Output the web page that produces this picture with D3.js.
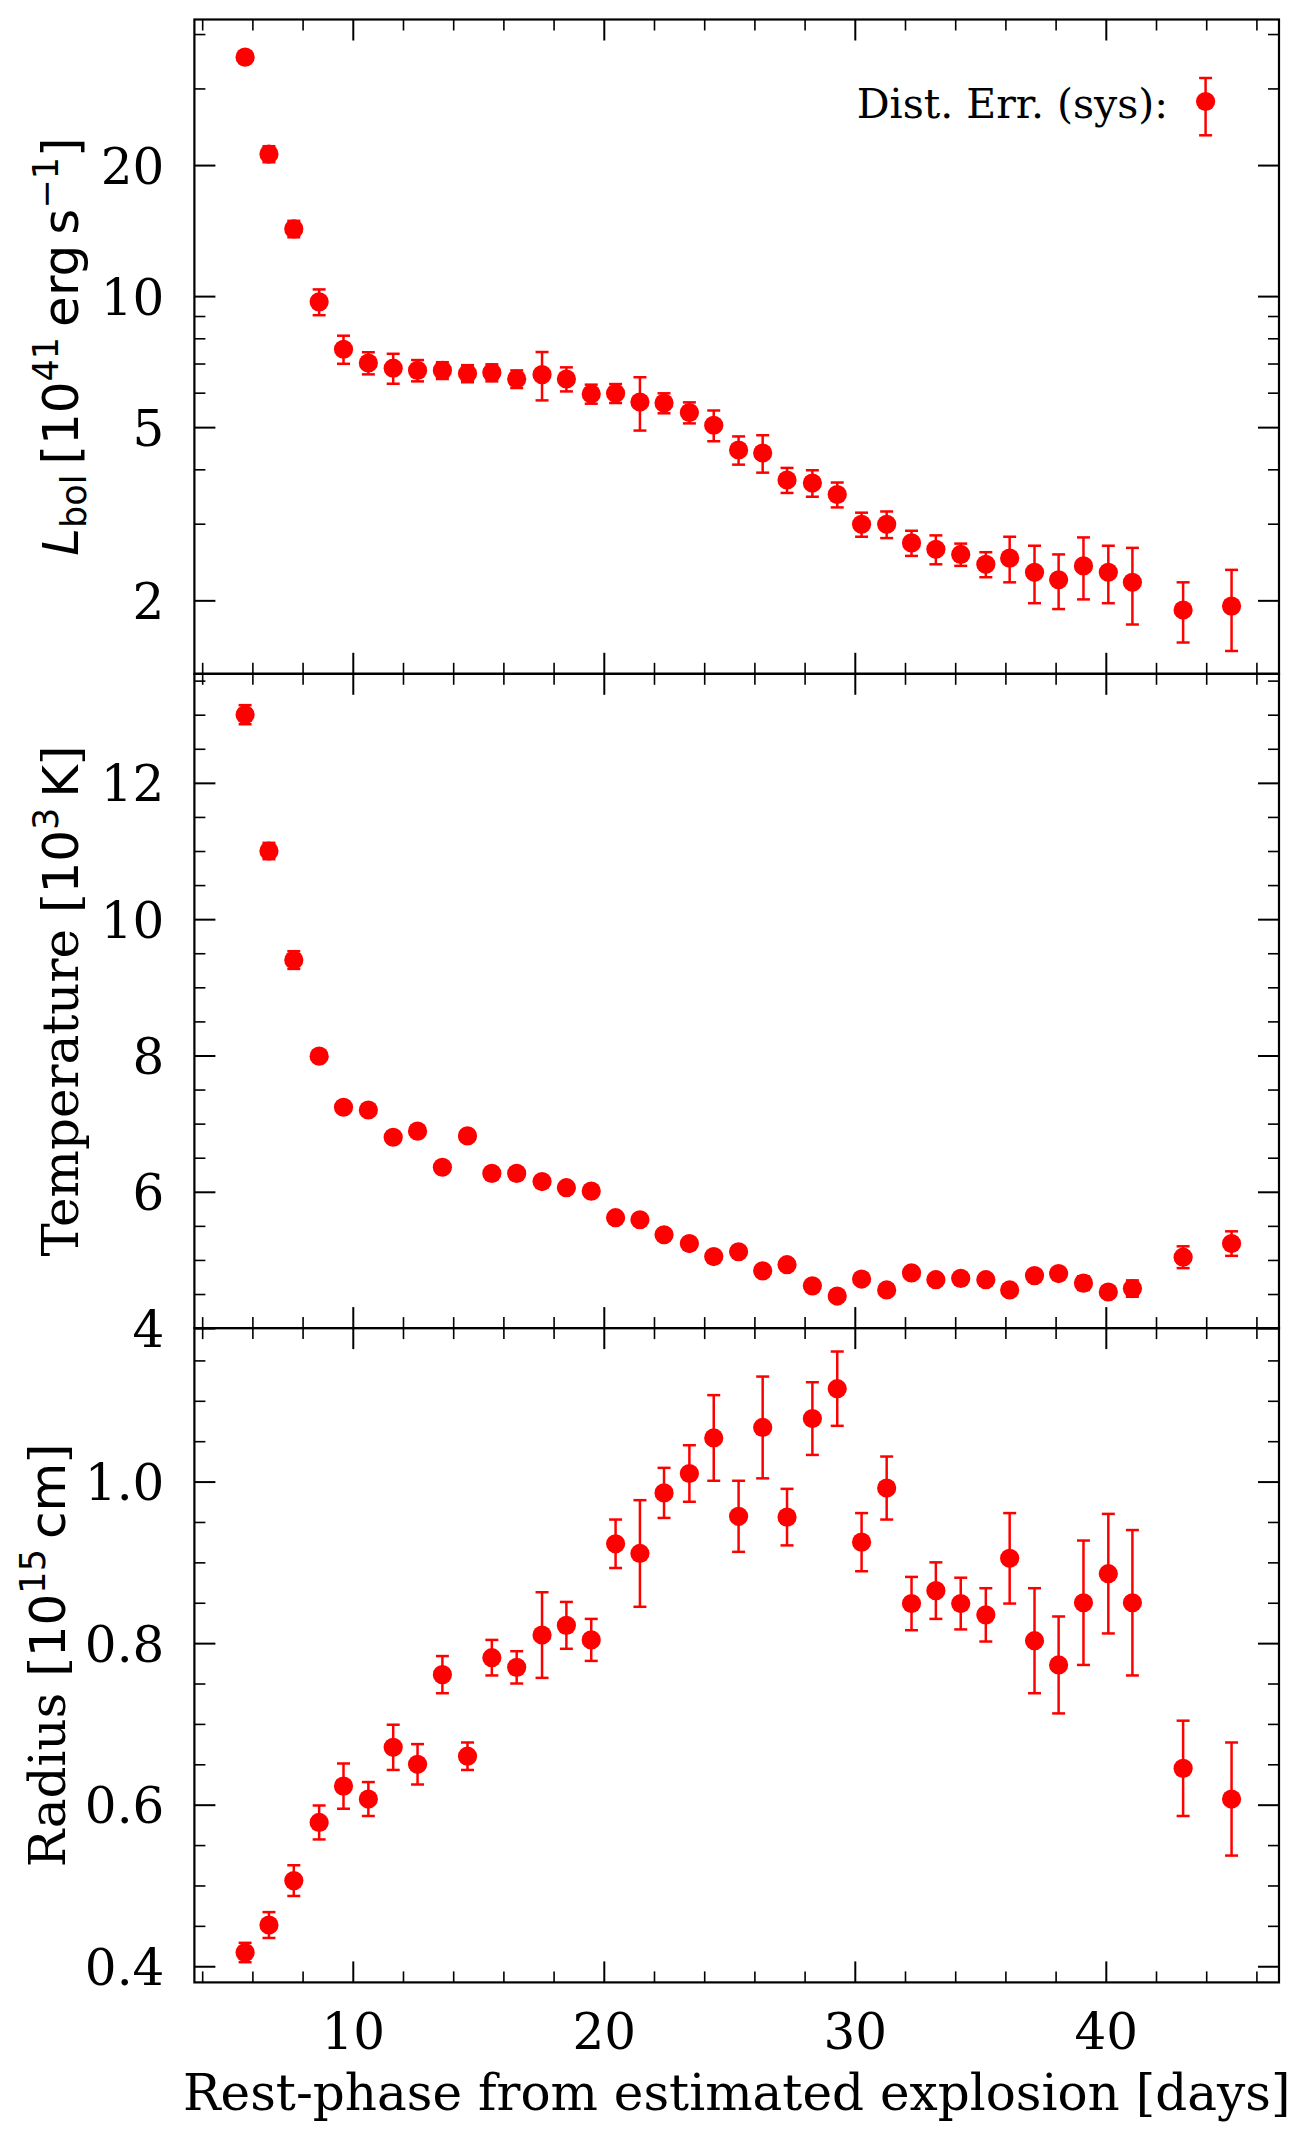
<!DOCTYPE html>
<html>
<head>
<meta charset="utf-8">
<script src="https://cdn.jsdelivr.net/npm/d3@7"></script>
<style>
  body { margin: 0; background: #fff; }
  svg { display: block; }
  .tick text { font-family: "DejaVu Serif", serif; font-size: 50px; fill: #000; }
  .tick line { stroke: #000; }
</style>
</head>
<body>
<div id="chart"></div>
<script>
// rest-phase of every epoch (days)
var phase = [5.71, 6.66, 7.65, 8.66, 9.63, 10.62, 11.61, 12.58, 13.57, 14.57,
    15.54, 16.53, 17.54, 18.51, 19.50, 20.47, 21.44, 22.40, 23.41, 24.38,
    25.37, 26.33, 27.30, 28.31, 29.30, 30.27, 31.27, 32.26, 33.23, 34.22,
    35.22, 36.17, 37.16, 38.12, 39.11, 40.10, 41.06, 43.08, 45.01];

// bolometric luminosity, 1e41 erg/s
var lbol = [35.4, 21.2, 14.27, 9.70, 7.55, 7.02, 6.83, 6.75, 6.75, 6.64,
    6.67, 6.45, 6.60, 6.45, 5.96, 5.98, 5.71, 5.68, 5.40, 5.05,
    4.43, 4.36, 3.78, 3.72, 3.50, 2.99, 2.99, 2.71, 2.62, 2.55,
    2.42, 2.50, 2.32, 2.23, 2.40, 2.32, 2.20, 1.90, 1.94];
var lbolErr = [1.1, 0.9, 0.62, 0.66, 0.56, 0.41, 0.54, 0.38, 0.3, 0.3,
    0.3, 0.3, 0.84, 0.41, 0.3, 0.3, 0.8, 0.3, 0.30, 0.41,
    0.33, 0.43, 0.25, 0.26, 0.23, 0.19, 0.21, 0.18, 0.20, 0.15,
    0.16, 0.30, 0.35, 0.32, 0.39, 0.35, 0.44, 0.30, 0.41];

// temperature, 1e3 K
var temp = [13.0, 11.0, 9.40, 7.99, 7.24, 7.20, 6.80, 6.89, 6.36, 6.82,
    6.27, 6.27, 6.15, 6.06, 6.01, 5.62, 5.59, 5.37, 5.24, 5.05,
    5.12, 4.84, 4.93, 4.62, 4.47, 4.72, 4.56, 4.81, 4.71, 4.73,
    4.71, 4.56, 4.77, 4.80, 4.66, 4.53, 4.58, 5.04, 5.24];
var tempErr = [0.14, 0.12, 0.13, 0.06, 0.06, 0.06, 0.06, 0.06, 0.06, 0.06,
    0.06, 0.06, 0.06, 0.06, 0.06, 0.06, 0.06, 0.06, 0.06, 0.06,
    0.06, 0.06, 0.06, 0.06, 0.06, 0.06, 0.06, 0.06, 0.06, 0.06,
    0.06, 0.06, 0.06, 0.06, 0.1, 0.06, 0.12, 0.16, 0.18];

// radius, 1e15 cm
var radius = [0.417, 0.451, 0.506, 0.578, 0.623, 0.607, 0.671, 0.650, 0.761, 0.660,
    0.782, 0.770, 0.810, 0.822, 0.804, 0.923, 0.911, 0.986, 1.010, 1.054,
    0.957, 1.067, 0.956, 1.078, 1.115, 0.925, 0.992, 0.849, 0.865, 0.849,
    0.835, 0.905, 0.803, 0.773, 0.850, 0.886, 0.850, 0.645, 0.607];
var radiusErr = [0.012, 0.016, 0.019, 0.021, 0.028, 0.021, 0.028, 0.025, 0.023, 0.017,
    0.022, 0.020, 0.053, 0.029, 0.026, 0.030, 0.066, 0.031, 0.035, 0.053,
    0.044, 0.063, 0.035, 0.045, 0.046, 0.036, 0.039, 0.033, 0.035, 0.032,
    0.033, 0.056, 0.065, 0.060, 0.077, 0.074, 0.090, 0.059, 0.070];

// tick values
var xTicks = [10, 20, 30, 40];
var lbolTicks = [2, 5, 10, 20];
var lbolMinor = [3, 4, 6, 7, 8, 9, 30, 40];
var tempTicks = [4, 6, 8, 10, 12];
var radiusTicks = [0.4, 0.6, 0.8, 1.0];

// set the dimensions of the graph
var margin = {top: 19.5, left: 194.4},
    width = 1279 - margin.left,
    panelH = 654.3;
var red = "#ff0000";
var sans = "DejaVu Sans, sans-serif", serif = "DejaVu Serif, serif";

var svg = d3.select("#chart").append("svg")
    .attr("width", 1311)
    .attr("height", 2141);

var x = d3.scaleLinear().domain([3.69, 46.9]).range([0, width]);
var xMinor = d3.range(4, 47, 2).filter(function (d) { return d % 10 != 0; });

var panels = [
    {vals: lbol, errs: lbolErr,
     y: d3.scaleLog().domain([1.356, 43.2]).range([panelH, 0]),
     major: lbolTicks, minor: lbolMinor, fmt: function (d) { return d; }},
    {vals: temp, errs: tempErr,
     y: d3.scaleLinear().domain([4, 13.6]).range([panelH, 0]),
     major: tempTicks,
     minor: d3.range(4.5, 13.6, 0.5).filter(function (d) { return d % 2 != 0; }),
     fmt: function (d) { return d; }},
    {vals: radius, errs: radiusErr,
     y: d3.scaleLinear().domain([0.38, 1.19]).range([panelH, 0]),
     major: radiusTicks,
     minor: d3.range(0.45, 1.19, 0.05).filter(function (d) {
         return Math.abs(Math.round(d * 10) - d * 10) > 0.01 || Math.round(d * 10) % 2 != 0; }),
     fmt: d3.format(".1f")}
];

function styleTicks(sel, w) {
    sel.select(".domain").remove();
    sel.selectAll(".tick line").attr("stroke-width", w);
}

panels.forEach(function (p, i) {
    var g = svg.append("g")
        .attr("transform", "translate(" + margin.left + "," + (margin.top + i * panelH) + ")");
    var y = p.y;
    var last = (i == panels.length - 1);

    // x ticks, inward, bottom and top
    g.append("g").attr("transform", "translate(0," + panelH + ")")
        .call(d3.axisBottom(x).tickValues(xMinor).tickSize(-11).tickFormat(""))
        .call(styleTicks, 1.6);
    g.append("g").attr("transform", "translate(0," + panelH + ")")
        .call(d3.axisBottom(x).tickValues(xTicks).tickSize(-21).tickPadding(31)
            .tickFormat(last ? function (d) { return d; } : ""))
        .call(styleTicks, 2);
    g.append("g")
        .call(d3.axisTop(x).tickValues(xMinor).tickSize(-11).tickFormat(""))
        .call(styleTicks, 1.6);
    g.append("g")
        .call(d3.axisTop(x).tickValues(xTicks).tickSize(-21).tickFormat(""))
        .call(styleTicks, 2);

    // y ticks, inward, left and right
    g.append("g")
        .call(d3.axisLeft(y).tickValues(p.minor).tickSize(-11).tickFormat(""))
        .call(styleTicks, 1.6);
    var yl = g.append("g")
        .call(d3.axisLeft(y).tickValues(p.major).tickSize(-21).tickPadding(30).tickFormat(p.fmt))
        .call(styleTicks, 2);
    yl.selectAll(".tick text").attr("dy", "0.36em");
    g.append("g").attr("transform", "translate(" + width + ",0)")
        .call(d3.axisRight(y).tickValues(p.minor).tickSize(-11).tickFormat(""))
        .call(styleTicks, 1.6);
    g.append("g").attr("transform", "translate(" + width + ",0)")
        .call(d3.axisRight(y).tickValues(p.major).tickSize(-21).tickFormat(""))
        .call(styleTicks, 2);

    // frame
    g.append("rect")
        .attr("width", width).attr("height", panelH)
        .attr("fill", "none").attr("stroke", "#000").attr("stroke-width", 2.2);

    // error bars
    var eb = g.append("g").attr("stroke", red).attr("stroke-width", 2.5);
    phase.forEach(function (t, k) {
        var v = p.vals[k], e = p.errs[k];
        var cx = x(t), y0 = y(v - e), y1 = y(v + e);
        eb.append("line").attr("x1", cx).attr("x2", cx).attr("y1", y0).attr("y2", y1);
        eb.append("line").attr("x1", cx - 6.5).attr("x2", cx + 6.5).attr("y1", y0).attr("y2", y0);
        eb.append("line").attr("x1", cx - 6.5).attr("x2", cx + 6.5).attr("y1", y1).attr("y2", y1);
    });

    // points
    g.append("g").selectAll("circle")
        .data(phase)
        .join("circle")
        .attr("cx", function (d) { return x(d); })
        .attr("cy", function (d, k) { return y(p.vals[k]); })
        .attr("r", 9.6)
        .attr("fill", red);

    p.g = g;
});

// legend for the systematic distance error
var lg = panels[0].g.append("g")
    .attr("transform", "translate(" + (width - 73.4) + ",82)");
lg.append("text")
    .attr("x", -37.6).attr("y", 16.5)
    .attr("text-anchor", "end")
    .attr("font-family", serif).attr("font-size", 41)
    .text("Dist. Err. (sys):");
lg.append("line").attr("x1", 0).attr("x2", 0).attr("y1", -23.5).attr("y2", 33.8)
    .attr("stroke", red).attr("stroke-width", 2.5);
lg.append("line").attr("x1", -6.5).attr("x2", 6.5).attr("y1", -23.5).attr("y2", -23.5)
    .attr("stroke", red).attr("stroke-width", 2.5);
lg.append("line").attr("x1", -6.5).attr("x2", 6.5).attr("y1", 33.8).attr("y2", 33.8)
    .attr("stroke", red).attr("stroke-width", 2.5);
lg.append("circle").attr("r", 9.6).attr("fill", red);

// y labels
function yLabel(i, bx, parts) {
    var t = svg.append("text")
        .attr("transform", "translate(" + bx + "," + (margin.top + (i + 0.5) * panelH) + ") rotate(-90)")
        .attr("text-anchor", "middle")
        .attr("font-size", 50);
    parts.forEach(function (p) {
        var s = t.append("tspan").text(p.t)
            .attr("font-family", p.f || sans)
            .attr("font-size", p.s || 50);
        if (p.it) s.attr("font-style", "italic");
        if (p.dy) s.attr("dy", p.dy);
    });
}
yLabel(0, 78, [
    {t: "L", it: true},
    {t: "bol", s: 35, dy: 8},
    {t: "\u2009[10", dy: -8},
    {t: "41", s: 35, dy: -20},
    {t: "\u2009erg\u2009s", dy: 20},
    {t: "\u22121", s: 35, dy: -20},
    {t: "]", dy: 20}
]);
yLabel(1, 78, [
    {t: "Temperature [", f: serif},
    {t: "10"},
    {t: "3", s: 35, dy: -20},
    {t: "\u2009K", dy: 20},
    {t: "]", f: serif}
]);
yLabel(2, 65, [
    {t: "Radius [", f: serif},
    {t: "10"},
    {t: "15", s: 35, dy: -20},
    {t: "\u2009cm", dy: 20},
    {t: "]", f: serif}
]);

// x label
svg.append("text")
    .attr("x", margin.left + width / 2)
    .attr("y", 2110)
    .attr("text-anchor", "middle")
    .attr("font-family", serif)
    .attr("font-size", 50)
    .text("Rest-phase from estimated explosion [days]");
</script>
</body>
</html>
